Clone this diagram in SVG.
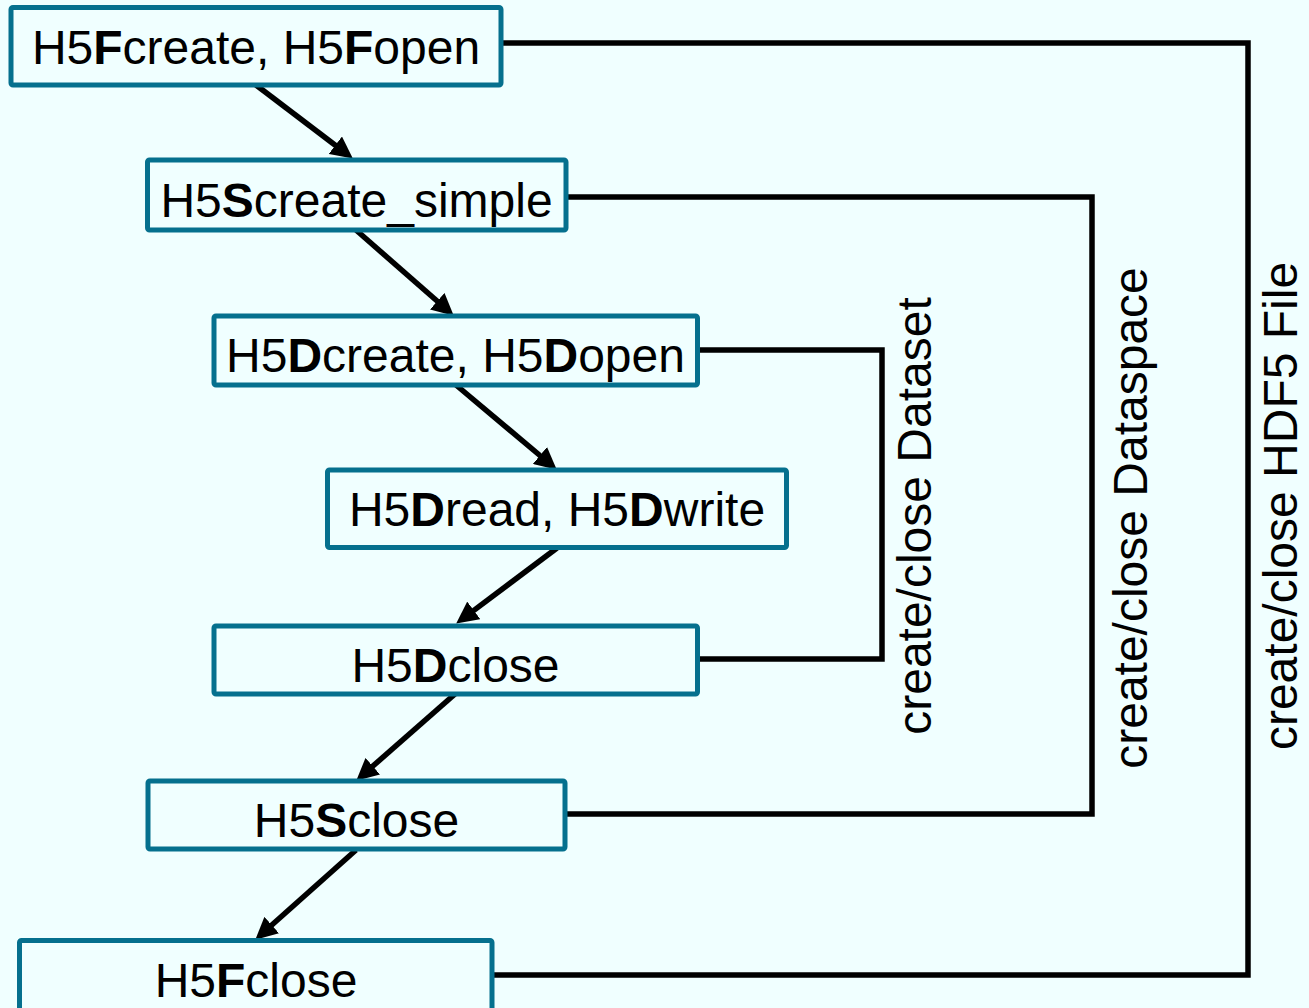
<svg xmlns="http://www.w3.org/2000/svg" width="1309" height="1008" viewBox="0 0 1309 1008">
<style>
.box{fill:#F0FFFF;stroke:#05708E;stroke-width:5}
.t{font-family:"Liberation Sans",Arial,sans-serif;font-size:48px;fill:#000;text-anchor:middle}
.b{font-weight:bold}
.c{fill:none;stroke:#000;stroke-width:5.5}
.a{fill:none;stroke:#000;stroke-width:5.5;marker-end:url(#ah)}
</style>
<defs>
<marker id="ah" markerUnits="userSpaceOnUse" viewBox="0 0 22 22" markerWidth="22" markerHeight="22" refX="7" refY="11" orient="auto">
<path d="M0,0 L22,11 L0,22 z" fill="#000"/>
</marker>
</defs>
<rect width="1309" height="1008" fill="#F0FFFF"/>
<g id="connectors">
<polyline class="c" points="501,43 1248,43 1248,975 492,975"/>
<polyline class="c" points="566,197 1092,197 1092,814 565,814"/>
<polyline class="c" points="697.5,350 882,350 882,659 697.5,659"/>
<line class="a" x1="256" y1="85" x2="340.9" y2="149.5"/>
<line class="a" x1="356" y1="230" x2="442.5" y2="305.8"/>
<line class="a" x1="456" y1="385" x2="545.3" y2="460"/>
<line class="a" x1="557" y1="548" x2="468.2" y2="614.6"/>
<line class="a" x1="455" y1="694" x2="367.5" y2="770.8"/>
<line class="a" x1="356" y1="850" x2="266.5" y2="929.7"/>
</g>
<g id="n1"><rect class="box" x="11" y="7.5" width="490" height="77.5" rx="2"/><text class="t" x="256" y="64">H5<tspan class="b">F</tspan>create, H5<tspan class="b">F</tspan>open</text></g>
<g id="n2"><rect class="box" x="147.5" y="160" width="418.5" height="70" rx="2"/><text class="t" x="356.5" y="217">H5<tspan class="b">S</tspan>create_simple</text></g>
<g id="n3"><rect class="box" x="214" y="316" width="483.5" height="69" rx="2"/><text class="t" x="455.5" y="372">H5<tspan class="b">D</tspan>create, H5<tspan class="b">D</tspan>open</text></g>
<g id="n4"><rect class="box" x="327.5" y="470" width="459" height="77.5" rx="2"/><text class="t" x="557" y="526">H5<tspan class="b">D</tspan>read, H5<tspan class="b">D</tspan>write</text></g>
<g id="n5"><rect class="box" x="214" y="626" width="483.5" height="68" rx="2"/><text class="t" x="455.5" y="682">H5<tspan class="b">D</tspan>close</text></g>
<g id="n6"><rect class="box" x="148" y="781" width="417" height="68" rx="2"/><text class="t" x="356.5" y="837">H5<tspan class="b">S</tspan>close</text></g>
<g id="n7"><rect class="box" x="19.5" y="940.5" width="472.5" height="80" rx="2"/><text class="t" x="256" y="996.5">H5<tspan class="b">F</tspan>close</text></g>
<g id="labels">
<text class="t" transform="translate(931,516) rotate(-90)">create/close Dataset</text>
<text class="t" transform="translate(1147,518) rotate(-90)">create/close Dataspace</text>
<text class="t" transform="translate(1297,506) rotate(-90)">create/close HDF5 File</text>
</g>
</svg>
